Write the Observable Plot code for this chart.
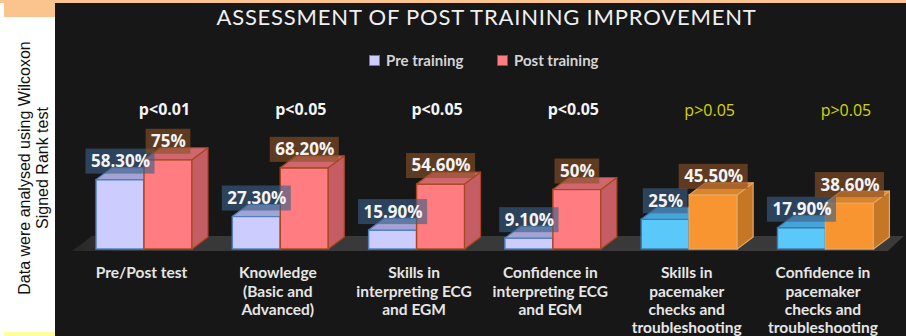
<!DOCTYPE html>
<html>
<head>
<meta charset="utf-8">
<script src="https://cdn.jsdelivr.net/npm/d3@7"></script>
<script src="https://cdn.jsdelivr.net/npm/@observablehq/plot@0.6"></script>
<style>
  html, body { margin: 0; padding: 0; }
  body { width: 906px; height: 336px; position: relative; overflow: hidden; background: #ffffff; }
  #side { position: absolute; left: -111px; top: 150px; width: 290px; height: 36px; transform: rotate(-90deg);
          transform-origin: 50% 50%; text-align: center; font: 16px/18px "Liberation Sans", Arial, sans-serif; color: #111; }
  #panel { position: absolute; left: 55px; top: 3px; width: 851px; height: 333px; background: #171717; }
  #title { position: absolute; left: 6px; top: 1px; width: 851px; text-align: center; font: 400 22px/26px Lato, sans-serif;
           color: #f0f0f0; letter-spacing: 0.8px; }
  .leg { position: absolute; top: 48px; height: 18px; display: flex; align-items: center; font: 700 15px/18px Lato, sans-serif; color: #d4d4d4; }
  .sw { width: 9px; height: 9px; margin-right: 6px; }
  #chart { position: absolute; left: 0; top: 77px; }
</style>
</head>
<body>
<div style="position:absolute;left:0;top:0;width:906px;height:3px;background:#fbc38e"></div>
<div style="position:absolute;left:4px;top:0;width:51px;height:17px;background:#fbc38e"></div>
<div style="position:absolute;left:4px;top:332px;width:51px;height:4px;background:#ffff9e"></div>
<div id="side">Data were analysed using Wilcoxon<br>Signed Rank test</div>
<div id="panel">
  <div id="title">ASSESSMENT OF POST TRAINING IMPROVEMENT</div>
  <div id="legend"></div>
  <div id="chart"></div>
</div>
<script>
// ---- data ----
const categories = [
  "Pre/Post test",
  "Knowledge\n(Basic and\nAdvanced)",
  "Skills in\ninterpreting ECG\nand EGM",
  "Confidence in\ninterpreting ECG\nand EGM",
  "Skills in\npacemaker\nchecks and\ntroubleshooting",
  "Confidence in\npacemaker\nchecks and\ntroubleshooting"
];
const seriesNames = ["Pre training", "Post training"];
const preValues = [58.3, 27.3, 15.9, 9.1, 25, 17.9];
const postValues = [75, 68.2, 54.6, 50, 45.5, 38.6];
const preLabels = ["58.30%", "27.30%", "15.90%", "9.10%", "25%", "17.90%"];
const postLabels = ["75%", "68.20%", "54.60%", "50%", "45.50%", "38.60%"];
const pValues = ["p<0.01", "p<0.05", "p<0.05", "p<0.05", "p>0.05", "p>0.05"];

// ---- styling ----
const BAR = 0.352;           // bar width in band units
const DX = 16, DY = -12;     // 3D depth offset in px
const palettes = {
  sig: {
    pre:  {front: "#ccccff", top: "#a3a3d6", side: "#9a9ad0", stroke: "#4f7fbd"},
    post: {front: "#ff7c80", top: "#cf676c", side: "#c45e64", stroke: "#a9461f"}
  },
  ns: {
    pre:  {front: "#5bc8fa", top: "#47a4d6", side: "#3f97c8", stroke: "#3b79b2"},
    post: {front: "#f89530", top: "#d9852b", side: "#c67726", stroke: "#e6a565"}
  }
};
const pal = (d, which) => palettes[d.p.startsWith("p>") ? "ns" : "sig"][which];

const rows = categories.map((c, i) => ({
  i, category: c, pre: preValues[i], post: postValues[i],
  preLabel: preLabels[i], postLabel: postLabels[i], p: pValues[i]
}));

// legend
const legend = document.getElementById("legend");
[[seriesNames[0], palettes.sig.pre, 314], [seriesNames[1], palettes.sig.post, 442]].forEach(([name, p, left]) => {
  const item = document.createElement("div");
  item.className = "leg";
  item.style.left = left + "px";
  item.innerHTML = `<span class="sw" style="background:${p.front};border:1.5px solid ${p.stroke}"></span><span>${name}</span>`;
  legend.appendChild(item);
});

// custom 3D faces (top + side) through the plot's scales
function faces(which) {
  return (index, scales) => {
    const {x, y} = scales;
    const g = d3.create("svg:g");
    for (const d of rows) {
      const p = pal(d, which);
      const x1 = x(which === "pre" ? d.i - BAR : d.i);
      const x2 = x(which === "pre" ? d.i : d.i + BAR);
      const y0 = y(0), yt = y(d[which]);
      g.append("path")
        .attr("d", `M${x2},${yt}L${x2 + DX},${yt + DY}L${x2 + DX},${y0 + DY}L${x2},${y0}Z`)
        .attr("fill", p.side).attr("stroke", p.stroke).attr("stroke-width", 1.2).attr("stroke-linejoin", "round");
      g.append("path")
        .attr("d", `M${x1},${yt}L${x1 + DX},${yt + DY}L${x2 + DX},${yt + DY}L${x2},${yt}Z`)
        .attr("fill", p.top).attr("stroke", p.stroke).attr("stroke-width", 1.2).attr("stroke-linejoin", "round");
    }
    return g.node();
  };
}

function floor(index, scales) {
  const {x, y} = scales;
  const g = d3.create("svg:g");
  const xl = x(-0.528), xr = x(5.458), yf = y(0) + 2, yb = y(0) - 13;
  const grad = g.append("defs").append("linearGradient").attr("id", "floorGrad")
    .attr("x1", "0").attr("x2", "1").attr("y1", "0").attr("y2", "0");
  grad.append("stop").attr("offset", "0").attr("stop-color", "#262626");
  grad.append("stop").attr("offset", "0.06").attr("stop-color", "#383838");
  grad.append("stop").attr("offset", "1").attr("stop-color", "#3a3a3a");
  g.append("path")
    .attr("d", `M${xl},${yf}L${xl + 20},${yb}L${xr + 16},${yb}L${xr},${yf}Z`)
    .attr("fill", "url(#floorGrad)");
  return g.node();
}

const labelFont = "bold 17px 'Open Sans'";
const ctx = document.createElement("canvas").getContext("2d");
function labelBoxes(index, scales) {
  const {x, y} = scales;
  const g = d3.create("svg:g");
  ctx.font = labelFont;
  for (const d of rows) {
    for (const which of ["pre", "post"]) {
      const text = which === "pre" ? d.preLabel : d.postLabel;
      const w = ctx.measureText(text).width + 10;
      const cx = x(which === "pre" ? d.i - BAR / 2 : d.i + BAR / 2);
      const yt = y(d[which]);
      g.append("rect")
        .attr("x", cx - w / 2).attr("y", yt - 31).attr("width", w).attr("height", 25)
        .attr("fill", which === "pre" ? "#3a5f86" : "#8a5028").attr("fill-opacity", 0.62);
    }
  }
  return g.node();
}

const textStyle = {fill: "#f4f4f4", fontFamily: "Open Sans", fontWeight: "bold", fontSize: 17, dy: -18.5};

const chart = Plot.plot({
  width: 851,
  height: 256,
  marginTop: 50,
  marginBottom: 87,
  marginLeft: 0,
  marginRight: 0,
  style: {background: "transparent", color: "#eee", overflow: "visible"},
  x: {type: "linear", domain: [-0.653, 5.591], axis: null},
  y: {domain: [0, 100], axis: null},
  color: {type: "identity"},
  marks: [
    floor,
    Plot.rect(rows, {x1: d => d.i - BAR, x2: d => d.i, y1: 0, y2: "pre",
      fill: d => pal(d, "pre").front, stroke: d => pal(d, "pre").stroke, strokeWidth: 1.4}),
    faces("pre"),
    Plot.rect(rows, {x1: d => d.i, x2: d => d.i + BAR, y1: 0, y2: "post",
      fill: d => pal(d, "post").front, stroke: d => pal(d, "post").stroke, strokeWidth: 1.4}),
    faces("post"),
    labelBoxes,
    Plot.text(rows, {x: d => d.i - BAR / 2, y: "pre", text: "preLabel", ...textStyle}),
    Plot.text(rows, {x: d => d.i + BAR / 2, y: "post", text: "postLabel", ...textStyle}),
    Plot.text(rows, {filter: d => d.p.startsWith("p<"), x: "i", text: "p", frameAnchor: "top", dx: 20, dy: -27,
      fill: "#f4f4f4", fontFamily: "Open Sans", fontWeight: "bold", fontSize: 16}),
    Plot.text(rows, {filter: d => d.p.startsWith("p>"), x: "i", text: "p", frameAnchor: "top", dx: 20, dy: -26,
      fill: "#d6d600", fontFamily: "Open Sans", fontSize: 16}),
    Plot.text(rows, {x: "i", text: "category", frameAnchor: "bottom", lineAnchor: "top", dx: -3, dy: 16,
      lineHeight: 1.17, fill: "#e6e6e6", fontFamily: "Lato", fontWeight: "bold", fontSize: 15.5})
  ]
});
document.getElementById("chart").appendChild(chart);
</script>
</body>
</html>
